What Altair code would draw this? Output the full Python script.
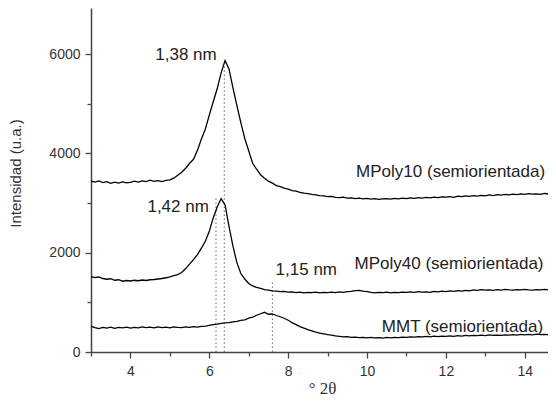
import altair as alt
import pandas as pd

x_vals = [round(3.0 + 0.1 * i, 1) for i in range(119)]

mpoly10 = [3440, 3420, 3445, 3410, 3430, 3395, 3420, 3400, 3425, 3405,
           3415, 3440, 3420, 3445, 3430, 3460, 3435, 3450, 3430, 3455,
           3465, 3500, 3560, 3620, 3700, 3800, 3880, 4060, 4290, 4490,
           4770, 5040, 5300, 5620, 5870, 5700, 5320, 4960, 4620, 4300,
           4050, 3800, 3680, 3570, 3500, 3440, 3400, 3350, 3330, 3300,
           3280, 3250, 3240, 3215, 3200, 3190, 3175, 3165, 3150, 3145,
           3130, 3135, 3115, 3110, 3120, 3100, 3105, 3090, 3100, 3085,
           3095, 3080, 3090, 3075, 3085, 3090, 3080, 3095, 3085, 3100,
           3090, 3105, 3095, 3110, 3100, 3115, 3105, 3120, 3110, 3125,
           3120, 3130, 3115, 3140, 3130, 3145, 3135, 3150, 3140, 3155,
           3145, 3165, 3150, 3170, 3160, 3175, 3165, 3180, 3170, 3185,
           3175, 3190, 3180, 3185, 3175, 3195, 3180, 3190, 3185]

mpoly40 = [1520, 1500, 1510, 1480, 1465, 1475, 1445, 1455, 1425, 1440,
           1430, 1445, 1435, 1450, 1440, 1455, 1460, 1470, 1480, 1495,
           1515, 1540, 1560, 1600, 1680, 1770, 1860, 1960, 2090, 2230,
           2430, 2700, 2920, 3090, 2960, 2530, 2130, 1800, 1580, 1470,
           1380, 1330, 1300, 1280, 1255, 1245, 1230, 1225, 1215, 1220,
           1205, 1210, 1195, 1205, 1190, 1200, 1195, 1205, 1190, 1200,
           1195, 1205, 1195, 1210, 1200, 1215, 1220, 1235, 1240, 1225,
           1215, 1200, 1190, 1200, 1195, 1205, 1190, 1200, 1195, 1205,
           1200, 1210, 1200, 1215, 1205, 1210, 1200, 1220, 1210, 1225,
           1215, 1230, 1220, 1235, 1225, 1240, 1230, 1250, 1240, 1255,
           1245, 1250, 1240, 1255, 1245, 1260, 1250, 1245, 1255, 1250,
           1260, 1250, 1245, 1255, 1250, 1260, 1250, 1255, 1250]

mmt = [515, 490, 470, 495, 480, 500, 475, 495, 485, 500,
       480, 495, 485, 505, 490, 500, 485, 505, 490, 500,
       485, 505, 495, 490, 505, 495, 510, 500, 515, 520,
       535, 550, 560, 575, 585, 590, 605, 615, 635, 645,
       680, 700, 740, 770, 800, 760, 765, 735, 710, 680,
       640, 590, 550, 510, 480, 450, 425, 400, 380, 365,
       350, 340, 325, 315, 305, 310, 295, 300, 290, 295,
       285, 295, 285, 290, 280, 295, 285, 295, 290, 300,
       295, 305, 300, 310, 305, 315, 305, 320, 310, 320,
       315, 325, 315, 330, 320, 335, 325, 335, 330, 340,
       330, 345, 335, 340, 335, 345, 340, 350, 340, 355,
       345, 355, 345, 360, 350, 355, 350, 360, 355]

series_names = ["MPoly10", "MPoly40", "MMT"]

# dotted guide lines at the peaks
guide_x = [6.38, 6.17, 7.6]
guide_top = [5880, 3130, 1410]

# annotations
label_text = ["1,38 nm", "1,42 nm", "1,15 nm",
              "MPoly10 (semiorientada)", "MPoly40 (semiorientada)", "MMT (semiorientada)"]
label_x = [5.41, 5.21, 8.46, 12.12, 12.08, 12.42]
label_y = [5980, 2920, 1645, 3625, 1780, 505]

rows = []
for name, vals in zip(series_names, [mpoly10, mpoly40, mmt]):
    for xv, yv in zip(x_vals, vals):
        rows.append({"x": xv, "y": yv, "s": name})
df = pd.DataFrame(rows)
guides = pd.DataFrame({"x": guide_x, "y0": [0] * 3, "y1": guide_top})
labels = pd.DataFrame({"x": label_x, "y": label_y, "t": label_text})

xscale = alt.Scale(domain=[3, 14.59], nice=False, zero=False)
yscale = alt.Scale(domain=[0, 6927], nice=False)

axis_common = dict(domainColor="#444", domainWidth=1.5, tickColor="#444", tickWidth=1.3,
                   labelColor="#333", labelFont="Liberation Sans", labelFontSize=14,
                   grid=False)

xaxis = alt.Axis(values=[4, 6, 8, 10, 12, 14], tickSize=6, labelPadding=6, format="d",
                 title="° 2θ", titleFont="Liberation Serif", titleFontSize=17,
                 titleFontWeight="normal", titleColor="#333",
                 titleX=231, titleY=36, titleBaseline="middle", titleAlign="center",
                 orient="bottom", **axis_common)
yaxis = alt.Axis(values=[0, 2000, 4000, 6000], tickSize=6, labelPadding=5, format="d",
                 title="Intensidad (u.a.)", titleFont="Liberation Sans", titleFontSize=15,
                 titleFontWeight="normal", titleColor="#333", titleAngle=270,
                 titleX=-76, titleY=165, titleBaseline="middle", titleAlign="center",
                 orient="left", **axis_common)

lines = alt.Chart(df).mark_line(color="black", strokeWidth=1.3, clip=True).encode(
    x=alt.X("x:Q", scale=xscale, axis=xaxis),
    y=alt.Y("y:Q", scale=yscale, axis=yaxis),
    detail="s:N",
)

minor_x_axis = alt.Axis(values=[3, 5, 7, 9, 11, 13], tickSize=4, labels=False, domain=False,
                        title=None, orient="bottom", tickColor="#444", tickWidth=1.3, grid=False)
minor_y_axis = alt.Axis(values=[1000, 3000, 5000], tickSize=4, labels=False, domain=False,
                        title=None, orient="left", tickColor="#444", tickWidth=1.3, grid=False)

rules = alt.Chart(guides).mark_rule(color="#666", strokeWidth=1, strokeDash=[1.5, 2.5]).encode(
    x=alt.X("x:Q", scale=xscale, axis=minor_x_axis),
    y=alt.Y("y0:Q", scale=yscale, axis=minor_y_axis),
    y2="y1:Q",
)

texts = alt.Chart(labels).mark_text(font="Liberation Sans", fontSize=17, color="#222",
                                    align="center", baseline="middle").encode(
    x=alt.X("x:Q", scale=xscale, axis=None),
    y=alt.Y("y:Q", scale=yscale, axis=None),
    text="t:N",
)

chart = alt.layer(rules, lines, texts).resolve_axis(x="independent", y="independent").properties(
    width=457, height=344,
    autosize=alt.AutoSizeParams(type="none"),
    padding={"left": 83, "top": 0, "right": 0, "bottom": 46},
    background="white",
).configure_view(stroke=None)

chart.save("out.html", embed_options={"renderer": "svg", "actions": False})
